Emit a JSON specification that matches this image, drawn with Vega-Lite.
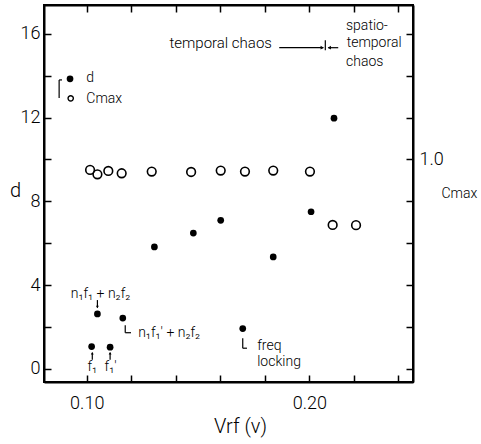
{
  "$schema": "https://vega.github.io/schema/vega-lite/v6.json",
  "width": 369,
  "height": 377,
  "autosize": {"type": "none"},
  "padding": {"left": 44, "top": 5, "right": 68, "bottom": 62},
  "background": "white",
  "datasets": {
    "dvals": [
      {"V": 0.1022, "d": 1.06},
      {"V": 0.1105, "d": 1.03},
      {"V": 0.1048, "d": 2.62},
      {"V": 0.1162, "d": 2.42},
      {"V": 0.1304, "d": 5.82},
      {"V": 0.1479, "d": 6.48},
      {"V": 0.1602, "d": 7.09},
      {"V": 0.1701, "d": 1.92},
      {"V": 0.1838, "d": 5.34},
      {"V": 0.2008, "d": 7.5},
      {"V": 0.2111, "d": 11.97}
    ],
    "cvals": [
      {"V": 0.1015, "Cmax": 0.950},
      {"V": 0.1048, "Cmax": 0.929},
      {"V": 0.1097, "Cmax": 0.945},
      {"V": 0.1157, "Cmax": 0.934},
      {"V": 0.1292, "Cmax": 0.942},
      {"V": 0.1469, "Cmax": 0.940},
      {"V": 0.1602, "Cmax": 0.947},
      {"V": 0.1711, "Cmax": 0.942},
      {"V": 0.1838, "Cmax": 0.947},
      {"V": 0.2003, "Cmax": 0.942},
      {"V": 0.2105, "Cmax": 0.687},
      {"V": 0.2210, "Cmax": 0.686}
    ],
    "legendFilled": [{"V": 0.0925, "d": 13.85}],
    "legendOpen": [{"V": 0.0928, "d": 12.92}],
    "textLeft": [
      {"V": 0.0998, "d": 13.9, "t": "d"},
      {"V": 0.0998, "d": 12.9, "t": "Cmax"},
      {"V": 0.2165, "d": 16.36, "t": "spatio-"},
      {"V": 0.2168, "d": 15.57, "t": "temporal"},
      {"V": 0.2165, "d": 14.64, "t": "chaos"},
      {"V": 0.1231, "d": 1.72, "t": "n₁f₁' + n₂f₂"},
      {"V": 0.1766, "d": 1.08, "t": "freq"},
      {"V": 0.1766, "d": 0.3, "t": "locking"}
    ],
    "textRight": [
      {"V": 0.1832, "d": 15.57, "t": "temporal  chaos"}
    ],
    "textCenter": [
      {"V": 0.1062, "d": 3.58, "t": "n₁f₁ + n₂f₂"},
      {"V": 0.1025, "d": 0.1, "t": "f₁"},
      {"V": 0.1107, "d": 0.08, "t": "f₁'"}
    ],
    "rules": [
      {"V": 0.1865, "V2": 0.2063, "d": 15.34, "d2": 15.34},
      {"V": 0.2072, "V2": 0.2072, "d": 15.7, "d2": 15.22},
      {"V": 0.2085, "V2": 0.2130, "d": 15.34, "d2": 15.34},
      {"V": 0.1025, "V2": 0.1025, "d": 0.43, "d2": 0.76},
      {"V": 0.1105, "V2": 0.1105, "d": 0.43, "d2": 0.76},
      {"V": 0.1048, "V2": 0.1048, "d": 3.28, "d2": 2.92},
      {"V": 0.1173, "V2": 0.1173, "d": 2.08, "d2": 1.72},
      {"V": 0.1173, "V2": 0.1199, "d": 1.72, "d2": 1.72},
      {"V": 0.1701, "V2": 0.1701, "d": 1.46, "d2": 0.98},
      {"V": 0.1701, "V2": 0.1720, "d": 0.98, "d2": 0.98},
      {"V": 0.0876, "V2": 0.0876, "d": 13.8, "d2": 12.94},
      {"V": 0.0876, "V2": 0.0889, "d": 13.8, "d2": 13.8}
    ],
    "headRight": [{"V": 0.2058, "d": 15.34}],
    "headLeft": [{"V": 0.2090, "d": 15.34}],
    "headUp": [{"V": 0.1025, "d": 0.74}, {"V": 0.1105, "d": 0.74}],
    "headDown": [{"V": 0.1048, "d": 2.95}]
  },
  "layer": [
    {
      "layer": [
        {
          "data": {"name": "dvals"},
          "mark": {"type": "point", "filled": true, "color": "black", "size": 45, "opacity": 1},
          "encoding": {
            "x": {
              "field": "V", "type": "quantitative",
              "scale": {"domain": [0.0808, 0.2466], "nice": false, "zero": false},
              "axis": {
                "orient": "bottom",
                "values": [0.10, 0.12, 0.14, 0.16, 0.18, 0.20, 0.22, 0.24],
                "labelExpr": "abs(datum.value-0.1)<0.001 ? '0.10' : (abs(datum.value-0.2)<0.001 ? '0.20' : '')",
                "labelPadding": 19,
                "labelFlush": false,
                "ticks": true,
                "tickSize": -7,
                "tickColor": "black",
                "tickWidth": 1.5,
                "domain": true,
                "domainColor": "black",
                "domainWidth": 2,
                "labelColor": "black",
                "titleColor": "black",
                "title": "Vrf (v)",
                "titleFontSize": 20,
                "titleX": 196,
                "titleY": 44,
                "titleBaseline": "middle",
                "titleAlign": "center"
              }
            },
            "y": {
              "field": "d", "type": "quantitative",
              "scale": {"domain": [-0.635, 17.38], "nice": false, "zero": false},
              "axis": {
                "orient": "left",
                "values": [0, 2, 4, 6, 8, 10, 12, 14, 16],
                "labelExpr": "datum.value % 4 === 0 ? datum.label : ''",
                "labelPadding": 11,
                "labelFlush": false,
                "ticks": true,
                "tickSize": -7,
                "tickColor": "black",
                "tickWidth": 1.5,
                "domain": true,
                "domainColor": "black",
                "domainWidth": 2,
                "labelColor": "black",
                "titleColor": "black",
                "title": "d",
                "titleAngle": 0,
                "titleFontSize": 20,
                "titleX": -29,
                "titleY": 185,
                "titleAlign": "center",
                "titleBaseline": "middle"
              }
            }
          }
        },
        {
          "data": {"name": "legendFilled"},
          "mark": {"type": "point", "filled": true, "color": "black", "size": 45, "opacity": 1},
          "encoding": {
            "x": {"field": "V", "type": "quantitative"},
            "y": {"field": "d", "type": "quantitative"}
          }
        },
        {
          "data": {"name": "legendOpen"},
          "mark": {"type": "point", "filled": false, "color": "black", "size": 28, "strokeWidth": 1.4, "opacity": 1},
          "encoding": {
            "x": {"field": "V", "type": "quantitative"},
            "y": {"field": "d", "type": "quantitative"}
          }
        },
        {
          "data": {"name": "rules"},
          "mark": {"type": "rule", "color": "black", "strokeWidth": 1.2},
          "encoding": {
            "x": {"field": "V", "type": "quantitative"},
            "x2": {"field": "V2"},
            "y": {"field": "d", "type": "quantitative"},
            "y2": {"field": "d2"}
          }
        },
        {
          "data": {"name": "headRight"},
          "mark": {"type": "point", "shape": "triangle-right", "filled": true, "color": "black", "size": 14, "opacity": 1},
          "encoding": {
            "x": {"field": "V", "type": "quantitative"},
            "y": {"field": "d", "type": "quantitative"}
          }
        },
        {
          "data": {"name": "headLeft"},
          "mark": {"type": "point", "shape": "triangle-left", "filled": true, "color": "black", "size": 14, "opacity": 1},
          "encoding": {
            "x": {"field": "V", "type": "quantitative"},
            "y": {"field": "d", "type": "quantitative"}
          }
        },
        {
          "data": {"name": "headUp"},
          "mark": {"type": "point", "shape": "triangle-up", "filled": true, "color": "black", "size": 8, "opacity": 1},
          "encoding": {
            "x": {"field": "V", "type": "quantitative"},
            "y": {"field": "d", "type": "quantitative"}
          }
        },
        {
          "data": {"name": "headDown"},
          "mark": {"type": "point", "shape": "triangle-down", "filled": true, "color": "black", "size": 8, "opacity": 1},
          "encoding": {
            "x": {"field": "V", "type": "quantitative"},
            "y": {"field": "d", "type": "quantitative"}
          }
        },
        {
          "data": {"name": "textLeft"},
          "mark": {"type": "text", "align": "left", "baseline": "middle", "font": "Roboto", "fontWeight": 300, "fontSize": 14, "color": "black"},
          "encoding": {
            "x": {"field": "V", "type": "quantitative"},
            "y": {"field": "d", "type": "quantitative"},
            "text": {"field": "t"}
          }
        },
        {
          "data": {"name": "textRight"},
          "mark": {"type": "text", "align": "right", "baseline": "middle", "font": "Roboto", "fontWeight": 300, "fontSize": 15, "color": "black"},
          "encoding": {
            "x": {"field": "V", "type": "quantitative"},
            "y": {"field": "d", "type": "quantitative"},
            "text": {"field": "t"}
          }
        },
        {
          "data": {"name": "textCenter"},
          "mark": {"type": "text", "align": "center", "baseline": "middle", "font": "Roboto", "fontWeight": 300, "fontSize": 14, "color": "black"},
          "encoding": {
            "x": {"field": "V", "type": "quantitative"},
            "y": {"field": "d", "type": "quantitative"},
            "text": {"field": "t"}
          }
        }
      ]
    },
    {
      "data": {"name": "cvals"},
      "mark": {"type": "point", "filled": false, "color": "black", "size": 75, "strokeWidth": 1.6, "opacity": 1},
      "encoding": {
        "x": {
          "field": "V", "type": "quantitative",
          "axis": {
            "orient": "top",
            "values": [0.10, 0.12, 0.14, 0.16, 0.18, 0.20, 0.22, 0.24],
            "labels": false,
            "ticks": true,
            "tickSize": -7,
            "tickColor": "black",
            "tickWidth": 1.5,
            "domain": true,
            "domainColor": "black",
            "domainWidth": 2,
            "title": null
          }
        },
        "y": {
          "field": "Cmax", "type": "quantitative",
          "scale": {"domain": [-0.0635, 1.738], "nice": false, "zero": false},
          "axis": {
            "orient": "right",
            "values": [0, 0.2, 0.4, 0.6, 0.8, 1.0, 1.2, 1.4, 1.6],
            "labelExpr": "abs(datum.value-1)<0.001 ? '1.0' : ''",
            "labelPadding": 13,
            "labelFlush": false,
            "ticks": true,
            "tickSize": -7,
            "tickColor": "black",
            "tickWidth": 1.5,
            "domain": true,
            "domainColor": "black",
            "domainWidth": 2,
            "labelColor": "black",
            "titleColor": "black",
            "title": "Cmax",
            "titleAngle": 0,
            "titleFontSize": 14,
            "titleX": 28,
            "titleY": 188,
            "titleAlign": "left",
            "titleBaseline": "middle"
          }
        }
      }
    }
  ],
  "resolve": {"scale": {"y": "independent"}, "axis": {"x": "independent"}},
  "config": {
    "view": {"stroke": "black", "strokeWidth": 2},
    "font": "Roboto",
    "axis": {
      "grid": false,
      "domainColor": "black",
      "domainWidth": 2,
      "tickColor": "black",
      "tickWidth": 1.5,
      "tickSize": -7,
      "labelColor": "black",
      "labelFont": "Roboto",
      "labelFontWeight": 300,
      "labelFontSize": 18,
      "titleFont": "Roboto",
      "titleFontWeight": 300,
      "titleColor": "black"
    }
  }
}
